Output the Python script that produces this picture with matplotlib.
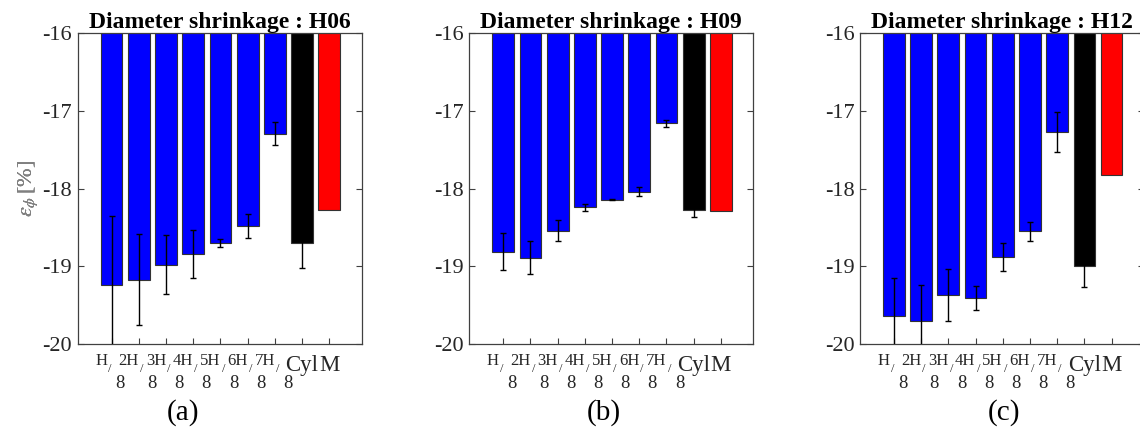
import numpy as np
import matplotlib
matplotlib.use('Agg')
import matplotlib.pyplot as plt

plt.rcParams['font.family'] = ['Liberation Serif', 'DejaVu Serif']
plt.rcParams['mathtext.fontset'] = 'stix'
plt.rcParams['axes.unicode_minus'] = False

# ---------------- data ----------------
categories = ['H/8', '2H/8', '3H/8', '4H/8', '5H/8', '6H/8', '7H/8', 'Cyl', 'M']
numerators = ['H', '2H', '3H', '4H', '5H', '6H', '7H']
denominator = '8'
plain_labels = ['Cyl', 'M']

panel_titles = ['Diameter shrinkage : H06', 'Diameter shrinkage : H09', 'Diameter shrinkage : H12']
panel_tags = ['(a)', '(b)', '(c)']

h06_mean = [-19.24, -19.17, -18.98, -18.84, -18.70, -18.48, -17.29, -18.70, -18.28]
h06_err = [0.89, 0.58, 0.38, 0.31, 0.05, 0.15, 0.145, 0.32, np.nan]
h09_mean = [-18.81, -18.89, -18.54, -18.24, -18.14, -18.04, -17.16, -18.28, -18.29]
h09_err = [0.24, 0.21, 0.14, 0.045, 0.01, 0.055, 0.05, 0.09, np.nan]
h12_mean = [-19.64, -19.70, -19.37, -19.41, -18.88, -18.55, -17.27, -19.00, -17.83]
h12_err = [0.49, 0.46, 0.33, 0.155, 0.18, 0.125, 0.26, 0.26, np.nan]

bar_colors = ['#0000ff'] * 7 + ['#000000', '#ff0000']
yticks = [-20, -19, -18, -17, -16]
ytick_labels = ['-20', '-19', '-18', '-17', '-16']
ylabel = r'$\varepsilon_{\phi}\,$[%]'

means = [h06_mean, h09_mean, h12_mean]
errs = [h06_err, h09_err, h12_err]

# ---------------- layout ----------------
W, H = 1140, 432
fig = plt.figure(figsize=(W / 100, H / 100), dpi=100)
ax_left_px = [77.7, 469.3, 860.0]
ax_w_px = 284.0
ax_top_px, ax_bot_px = 33.3, 344.0
tag_x_px = [183, 604, 1004]
tag_y_px = 413

PX = 0.72  # points per pixel

for k in range(3):
    ax = fig.add_axes([ax_left_px[k] / W, (H - ax_bot_px) / H,
                       ax_w_px / W, (ax_bot_px - ax_top_px) / H])
    x = np.arange(1, len(categories) + 1)
    m = np.array(means[k])
    e = np.array(errs[k])
    ax.bar(x, m, width=0.8, color=bar_colors, edgecolor='#333333', linewidth=0.8, zorder=2)
    ok = ~np.isnan(e)
    ax.errorbar(x[ok], m[ok], yerr=e[ok], fmt='none', ecolor='#000000',
                elinewidth=1.0, capsize=2.4, capthick=1.0, zorder=3)
    ax.set_ylim(-20, -16)
    ax.set_xlim(-0.245, 10.19)
    ax.set_yticks(yticks)
    ax.set_yticklabels(ytick_labels)
    ax.set_xticks(x)
    ax.set_xticklabels([''] * len(numerators) + plain_labels)
    ax.tick_params(axis='both', direction='in', top=True, right=True, length=4,
                   width=0.8, color='#404040', labelcolor='#262626', labelsize=16)
    ax.tick_params(axis='x', pad=8.0)
    ax.tick_params(axis='y', pad=4.0)
    for lbl in ax.get_xticklabels()[-2:]:
        lbl.set_fontsize(16.5)
    for sp in ax.spines.values():
        sp.set_color('#404040')
        sp.set_linewidth(0.9)
    ax.set_ylabel(ylabel, fontsize=16, color='#808080')
    ax.yaxis.set_label_coords((40 - ax_left_px[k]) / ax_w_px, 0.5)
    ax.set_title(panel_titles[k], fontsize=17, fontweight='bold', pad=4.0, color='black')

    # stacked fraction tick labels
    tr = ax.get_xaxis_transform()
    for i, num in enumerate(numerators):
        wnum = 9.5 if len(num) == 1 else 18.5
        num_right = (wnum - 17.0) / 2.0 - 0.8
        slash_c = num_right + 3.0
        den_left = slash_c + 5.5
        ax.annotate(num, xy=(x[i], 0), xycoords=tr, xytext=(num_right * PX, -21 * PX),
                    textcoords='offset points', ha='right', va='baseline',
                    fontsize=12, color='#262626', annotation_clip=False)
        ax.annotate('/', xy=(x[i], 0), xycoords=tr, xytext=(slash_c * PX, -28 * PX),
                    textcoords='offset points', ha='center', va='baseline',
                    fontsize=9, color='#262626', annotation_clip=False)
        ax.annotate(denominator, xy=(x[i], 0), xycoords=tr, xytext=(den_left * PX, -44 * PX),
                    textcoords='offset points', ha='left', va='baseline',
                    fontsize=13.5, color='#262626', annotation_clip=False)

    fig.text(tag_x_px[k] / W, (H - tag_y_px) / H, panel_tags[k], ha='center', va='center',
             fontsize=21, color='black')

fig.savefig('out.png', dpi=100)
